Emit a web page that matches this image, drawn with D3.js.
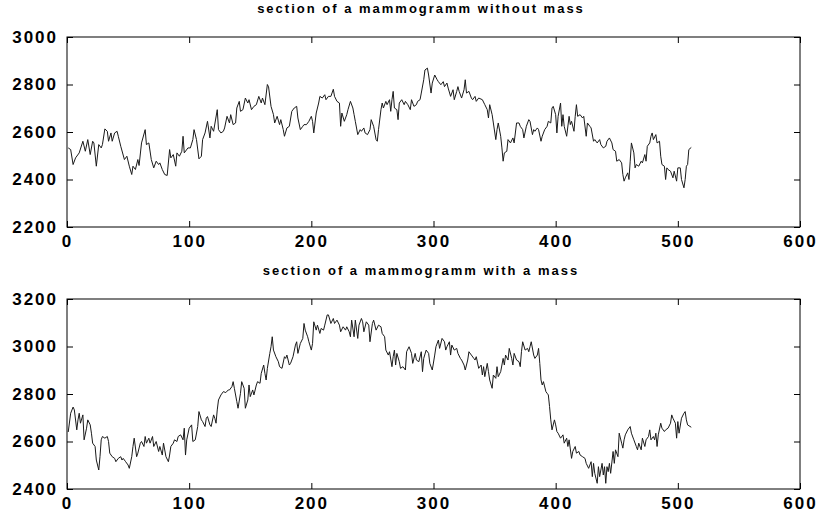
<!DOCTYPE html>
<html>
<head>
<meta charset="utf-8">
<script src="https://cdn.jsdelivr.net/npm/d3@7"></script>
<style>
  body { margin: 0; background: #fff; }
  svg { display: block; }
  text { font-family: "Liberation Sans", Arial, sans-serif; font-weight: bold; fill: #000; }
</style>
</head>
<body>
<svg id="chart" width="817" height="516"></svg>
<script>
// profile along a line of the mammogram, [pixel index, grey value]
var withoutMass = [
  [1,2533],[3,2526],[5,2463],[7,2491],[10,2512],[13,2561],[15,2519],[17,2568],[19,2505],[21,2561],[22,2554],[24,2456],[26,2547],[28,2533],[29,2547],[31,2613],[33,2603],[34,2561],[36,2596],[37,2561],[39,2596],[41,2603],[42,2582],[44,2540],[47,2484],[49,2498],[51,2456],[53,2421],[54,2456],[56,2442],[58,2484],[59,2459],[61,2554],[64,2610],[65,2547],[67,2554],[69,2484],[71,2449],[73,2477],[75,2463],[76,2470],[78,2442],[80,2421],[82,2417],[84,2526],[85,2491],[87,2505],[89,2456],[90,2512],[92,2498],[94,2519],[95,2582],[96,2512],[99,2533],[101,2533],[103,2568],[104,2610],[106,2568],[108,2487],[110,2498],[111,2568],[113,2596],[115,2645],[117,2575],[118,2624],[120,2603],
  [123,2694],[124,2610],[126,2596],[128,2603],[129,2617],[131,2666],[133,2638],[134,2673],[136,2631],[138,2638],[139,2701],[141,2729],[142,2687],[144,2694],[146,2743],[148,2722],[149,2736],[151,2694],[153,2708],[155,2715],[157,2750],[159,2722],[160,2743],[162,2715],[164,2800],[165,2790],[167,2708],[169,2673],[170,2638],[172,2666],[174,2631],[175,2652],[177,2610],[178,2582],[180,2617],[182,2624],[184,2687],[186,2701],[188,2708],[189,2659],[191,2610],[193,2624],[194,2631],[196,2631],[198,2645],[200,2666],[201,2645],[202,2596],[204,2680],[206,2722],[207,2750],[209,2743],[211,2757],[212,2736],[214,2750],[216,2750],[218,2780],[219,2750],[221,2729],[223,2722],[224,2624],[225,2680],[227,2645],[229,2673],[230,2694],[232,2729],[234,2701],[235,2673],[236,2645],[238,2589],[240,2610],[241,2603],[243,2617],[244,2596],[246,2589],[248,2610],[249,2652],[251,2624],
  [253,2568],[254,2561],[255,2610],[257,2694],[258,2722],[259,2701],[261,2729],[262,2715],[264,2736],[265,2687],[266,2736],[267,2771],[268,2701],[270,2694],[271,2652],[272,2722],[274,2736],[276,2715],[277,2729],[279,2715],[281,2694],[282,2736],[284,2708],[286,2715],[287,2729],[289,2736],
  [290,2764],[292,2820],[293,2861],[295,2869],[296,2840],[298,2764],[299,2806],[301,2840],[303,2820],[304,2812],[306,2799],[308,2812],[309,2791],[311,2806],[312,2785],[314,2750],[316,2778],[317,2736],[319,2771],[320,2791],[321,2771],[323,2743],[325,2778],[326,2820],[327,2764],[329,2771],[331,2743],[332,2736],[334,2750],[335,2729],[337,2743],[340,2736],
  [342,2715],[344,2694],[345,2659],[346,2715],[348,2673],[349,2638],[351,2568],[352,2610],[353,2638],[355,2582],[356,2533],[357,2477],[358,2512],[360,2519],[361,2568],[363,2554],[365,2575],[366,2554],[368,2638],[370,2638],[371,2624],[373,2610],[374,2575],[376,2624],
  [378,2652],[379,2645],[381,2589],[382,2610],[383,2603],[385,2617],[386,2610],[388,2561],[389,2582],[391,2610],[393,2624],[394,2645],[396,2638],[397,2701],[398,2708],[400,2673],[401,2596],[402,2666],[404,2722],[405,2624],[406,2673],[407,2624],[409,2582],[411,2666],[412,2631],[413,2645],[415,2603],[416,2666],[417,2715],[418,2666],[420,2673],[422,2659],[423,2666],[425,2582],[426,2638],[428,2624],[429,2617],[431,2561],[432,2568],[434,2554],[436,2568],[437,2547],[439,2533],[441,2540],[442,2561],[444,2575],[446,2554],[447,2526],[449,2519],[450,2477],[452,2484],[454,2470],[455,2421],[456,2393],[457,2407],[459,2428],[460,2400],[461,2477],[462,2554],[464,2512],[465,2449],[466,2463],[468,2456],[470,2477],[471,2470],[473,2505],[474,2477],[475,2540],[477,2554],[478,2582],[479,2596],[480,2568],[482,2589],[483,2554],[485,2561],[486,2498],[487,2463],[489,2456],[490,2400],[491,2449],[492,2442],[494,2435],[496,2407],[497,2435],[499,2393],[500,2449],[502,2449],[503,2400],[505,2365],[506,2400],[507,2456],[508,2463],[509,2526],[511,2535]
];

var withMass = [
  [1,2640],[3,2719],[5,2745],[6,2733],[8,2649],[9,2691],[10,2719],[11,2677],[13,2712],[14,2607],[16,2656],[17,2691],[19,2670],[20,2635],[21,2593],[23,2579],[24,2522],[26,2480],[27,2536],[28,2607],[29,2621],[31,2614],[33,2621],[34,2600],[35,2551],[37,2536],[39,2529],[40,2515],[42,2529],[44,2536],[45,2522],[46,2529],[48,2515],[50,2501],[51,2487],[53,2536],[54,2579],[55,2614],[57,2536],[58,2551],[60,2593],[61,2600],[63,2579],[64,2621],[65,2593],[67,2614],[68,2593],[70,2621],[71,2579],[73,2600],[75,2558],[76,2579],[78,2543],[79,2593],[81,2536],[83,2515],[84,2543],[85,2579],[87,2593],[88,2607],[90,2600],[91,2621],[93,2628],[95,2607],[96,2656],[97,2543],[98,2607],[100,2656],[102,2670],[103,2600],[105,2607],[107,2663],[108,2726],[110,2691],[111,2684],[113,2663],[114,2698],[115,2705],[117,2670],[118,2663],[120,2712],[121,2698],
  [122,2677],[123,2733],[124,2775],[126,2796],[128,2810],[130,2806],[132,2817],[133,2817],[135,2831],[136,2852],[137,2824],[139,2768],[140,2740],[142,2803],[143,2852],[145,2824],[146,2740],[148,2775],[149,2838],[150,2789],[152,2817],[153,2796],[155,2838],[156,2852],[158,2845],[159,2887],[161,2922],[162,2887],[163,2859],[164,2908],[166,2971],[167,2999],[168,3041],[169,2985],[171,2957],[173,2936],[174,2915],[176,2908],[178,2957],[179,2950],[180,2964],[182,2922],[183,2929],[185,2957],[187,3006],[188,3020],[189,2971],[191,3013],[193,3034],[194,3097],[195,3069],[197,3041],[198,3020],[200,2985],[201,3013],[202,3104],[204,3069],[205,3090],[207,3055],[208,3076],[210,3069],[211,3090],[213,3133],[214,3133],[216,3097],[218,3118],[219,3097],[221,3111],[223,3090],[224,3062],[226,3083],[228,3069],[229,3083],[231,3062],[232,3041],[233,3111],[235,3041],[236,3111],[238,3034],[239,3090],[241,3118],[242,3104],[243,3062],[245,3104],[247,3090],[248,3020],[250,3097],[251,3111],
  [253,3069],[255,3090],[257,3083],[258,3055],[260,3041],[261,2985],[263,2964],[264,2978],[266,2915],[267,2957],[268,2985],[269,2922],[270,2971],[272,2936],[273,2908],[275,2915],[277,2901],[278,2978],[280,2999],[282,2971],[283,2929],[285,2971],[286,2943],[288,2936],[290,2978],[291,2894],[292,2950],[294,2985],[296,2971],[297,2929],[299,2901],[301,2964],[302,2999],[304,3027],[305,2992],[307,3034],[309,3020],[310,2985],[311,2999],[313,3020],[314,2964],[315,3006],[317,2985],[319,2992],[320,2971],[322,2950],[323,2943],[325,2922],[326,2901],[328,2943],[329,2978],[331,2964],[333,2950],[334,2943],[335,2957],[337,2908],[339,2922],[340,2880],[341,2915],[342,2873],[344,2929],[345,2894],[346,2859],[348,2824],[349,2880],[351,2866],[352,2915],[353,2873],[355,2894],[357,2950],[358,2922],[359,2964],[361,2943],[362,2992],[364,2950],[365,2922],[366,2971],[368,2943],[370,2936],[371,2915],[372,2978],[373,3020],[375,2985],[377,2992],
  [378,2978],[379,2999],[380,3020],[382,2964],[383,2950],[385,2964],[386,2992],[387,2929],[388,2859],[389,2838],[390,2852],[392,2810],[393,2803],[394,2796],[395,2747],[396,2691],[397,2649],[399,2691],[400,2670],[401,2642],[402,2635],[404,2614],[406,2628],[407,2593],[409,2614],[410,2579],[411,2607],[413,2529],[414,2558],[416,2579],[417,2551],[419,2558],[420,2543],[422,2536],[424,2529],[425,2508],[427,2487],[429,2515],[430,2452],[431,2508],[432,2466],[434,2424],[435,2494],[436,2452],[438,2508],[439,2459],[440,2494],[441,2424],[442,2494],[443,2473],[444,2508],[445,2466],[447,2558],[448,2508],[449,2565],[451,2536],[452,2635],[454,2593],[455,2572],[456,2607],[457,2628],[459,2649],[461,2663],[462,2635],[464,2607],[466,2579],[467,2565],[468,2593],[470,2565],[471,2614],[473,2579],[474,2607],[476,2621],[477,2649],[478,2607],[480,2621],[481,2607],[482,2635],[483,2579],[484,2628],[486,2677],[487,2656],[489,2642],[490,2649],[492,2656],[494,2677],[495,2712],[496,2698],[498,2677],[499,2614],[500,2684],[501,2635],[503,2698],[505,2719],[506,2726],[507,2691],[508,2670],[511,2660]
];

var xTicks = [0, 100, 200, 300, 400, 500, 600];
var topTicks = [2200, 2400, 2600, 2800, 3000];
var bottomTicks = [2400, 2600, 2800, 3000, 3200];
var titles = ['section of a mammogramm without mass', 'section of a mammogramm with a mass'];

var svg = d3.select('#chart');
var left = 67, right = 800, plotH = 190;
var tops = [37, 299];

var panels = [
  {title: titles[0], data: withoutMass, ticks: topTicks},
  {title: titles[1], data: withMass, ticks: bottomTicks}
];

panels.forEach(function(p, i) {
  var g = svg.append('g').attr('transform', 'translate(0,' + tops[i] + ')');

  var x = d3.scaleLinear().domain(d3.extent(xTicks)).range([left, right]);
  var y = d3.scaleLinear().domain(d3.extent(p.ticks)).range([plotH, 0]);

  // data line
  g.append('path')
      .datum(p.data)
      .attr('fill', 'none')
      .attr('stroke', '#1a1a1a')
      .attr('stroke-width', 1)
      .attr('d', d3.line()
        .x(function(d) { return x(d[0]); })
        .y(function(d) { return y(d[1]); }));

  // box
  g.append('rect')
      .attr('x', left).attr('y', 0)
      .attr('width', right - left).attr('height', plotH)
      .attr('fill', 'none').attr('stroke', '#000').attr('stroke-width', 1);

  // axes, ticks pointing inwards like matlab
  g.append('g').attr('transform', 'translate(0,' + plotH + ')')
      .call(d3.axisBottom(x).tickValues(xTicks).tickSizeInner(-6).tickSizeOuter(0).tickPadding(8));
  g.append('g').attr('transform', 'translate(' + left + ',0)')
      .call(d3.axisLeft(y).tickValues(p.ticks).tickSizeInner(-6).tickSizeOuter(0).tickPadding(9).tickFormat(d3.format('d')));
  g.append('g')
      .call(d3.axisTop(x).tickValues(xTicks).tickSizeInner(-6).tickSizeOuter(0).tickFormat(''));
  g.append('g').attr('transform', 'translate(' + right + ',0)')
      .call(d3.axisRight(y).tickValues(p.ticks).tickSizeInner(-6).tickSizeOuter(0).tickFormat(''));

  g.selectAll('.domain').remove();
  g.selectAll('.tick line').attr('stroke', '#000');
  g.selectAll('.tick text')
      .style('font-size', '17px')
      .style('letter-spacing', '2px')
      .style('font-family', '"Liberation Sans", Arial, sans-serif')
      .style('font-weight', 'bold');

  g.append('text')
      .attr('x', 421)
      .attr('y', -24)
      .attr('text-anchor', 'middle')
      .style('font-size', '13px')
      .style('letter-spacing', '2px')
      .text(p.title);
});
</script>
</body>
</html>
